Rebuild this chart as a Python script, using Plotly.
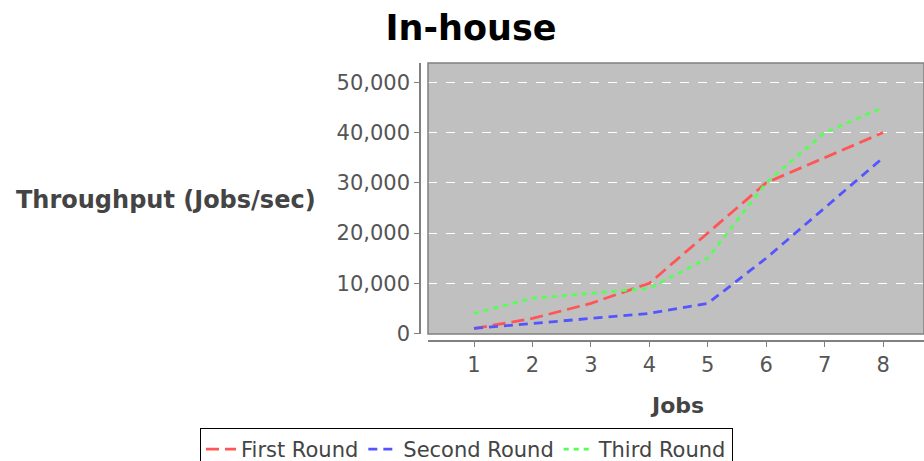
import plotly.graph_objects as go

jobs = [1, 2, 3, 4, 5, 6, 7, 8]
first_round = [1000, 3000, 6000, 10000, 20000, 30000, 35000, 40000]
second_round = [1000, 2000, 3000, 4000, 6000, 15000, 25000, 35000]
third_round = [4000, 7000, 8000, 9000, 15000, 30000, 40000, 45000]
y_ticks = [0, 10000, 20000, 30000, 40000, 50000]

FONT = "DejaVu Sans"
W, H = 924, 461
ML, MR, MT, MB = 200, 0, 63, 120
PW = W - ML - MR
PH = H - MT - MB

fig = go.Figure()
series = [
    ("First Round", first_round, "#FF5555", "13px,6px"),
    ("Second Round", second_round, "#5555FF", "9px,6px"),
    ("Third Round", third_round, "#55FF55", "5px,5px"),
]
for name, vals, color, dash in series:
    fig.add_trace(go.Scatter(x=jobs, y=vals, name=name, mode="lines",
                             line=dict(color=color, width=2.8, dash=dash)))

fig.update_layout(
    width=W, height=H,
    margin=dict(l=ML, r=MR, t=MT, b=MB, pad=0),
    paper_bgcolor="white",
    plot_bgcolor="#C0C0C0",
    title=dict(text="<b>In-house</b>", x=471 / W, xref="container", xanchor="center",
               y=1 - 28 / H, yref="container", yanchor="middle",
               font=dict(family=FONT, size=35, color="black")),
    xaxis=dict(domain=[(428 - ML) / PW, 1], range=[0.2127, 8.70], anchor="free", position=0,
               tickvals=jobs, showgrid=False, zeroline=False,
               showline=True, linecolor="#808080", linewidth=1.5,
               ticks="outside", ticklen=5, tickcolor="#808080",
               tickfont=dict(family=FONT, size=21, color="#555555")),
    yaxis=dict(domain=[7 / PH, 1], range=[-100, 53850], anchor="free",
               position=(420 - ML) / PW,
               tickvals=y_ticks, tickformat=",d", showgrid=True, gridcolor="white",
               griddash="dash", gridwidth=1, zeroline=False,
               showline=True, linecolor="#808080", linewidth=1.5,
               ticks="outside", ticklen=5, tickcolor="#808080",
               tickfont=dict(family=FONT, size=21, color="#555555")),
    legend=dict(orientation="h", xref="container", x=200 / W, xanchor="left",
                yref="container", y=1 - 428 / H, yanchor="top",
                bordercolor="black", borderwidth=1, bgcolor="white",
                font=dict(family=FONT, size=21, color="#444444"),
                itemwidth=30, tracegroupgap=0),
    shapes=[dict(type="rect", xref="x domain", yref="y domain", x0=0, x1=1, y0=0, y1=1,
                 line=dict(color="#808080", width=1.5), layer="above")],
    annotations=[
        dict(text="<b>Throughput (Jobs/sec)</b>", xref="paper", yref="paper",
             x=(166 - ML) / PW, y=(341 - 200) / PH, showarrow=False,
             xanchor="center", yanchor="middle",
             font=dict(family=FONT, size=24, color="#444444")),
        dict(text="<b>Jobs</b>", xref="paper", yref="paper",
             x=(677 - ML) / PW, y=(341 - 405) / PH, showarrow=False,
             xanchor="center", yanchor="middle",
             font=dict(family=FONT, size=22, color="#444444")),
    ],
)

fig.write_html("out.html", config={"displayModeBar": False},
               post_script="document.body.style.margin='0';")
